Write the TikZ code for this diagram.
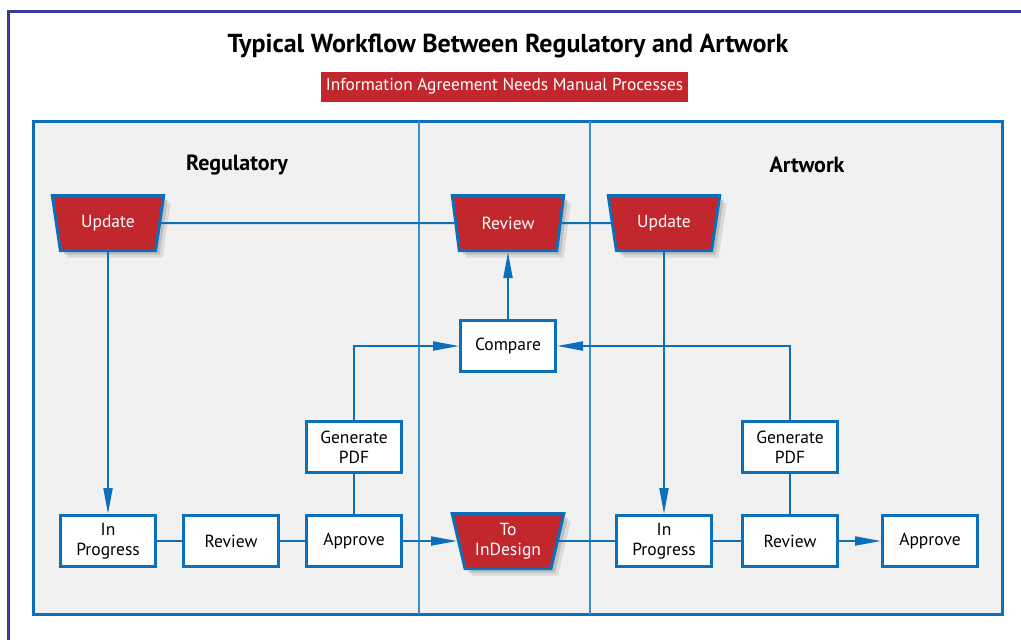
\documentclass[tikz,border=0pt]{standalone}
\usepackage{fontspec}
\setmainfont{PT Sans}
\usetikzlibrary{shapes, arrows.meta, positioning, shadows}

\definecolor{flowblue}{HTML}{0B6FBA}
\definecolor{flowred}{HTML}{C1272D}
\definecolor{lanegray}{HTML}{F1F1F1}
\definecolor{laneline}{HTML}{3D8FCB}
\definecolor{frameblue}{HTML}{3A3A98}

\begin{document}
\begin{tikzpicture}[
    x=1pt, y=-1pt,
    task/.style={rectangle, draw=flowblue, fill=white, line width=3pt, minimum width=95pt, minimum height=51pt, inner sep=1pt, align=center, font=\fontsize{17.5}{20}\selectfont},
    handoff/.style={trapezium, shape border rotate=180, trapezium stretches=true, trapezium angle=75, draw=flowblue, fill=flowred, line width=3pt, minimum width=112pt, minimum height=55pt, inner sep=1pt, align=center, text=white, font=\fontsize{17.5}{20}\selectfont,
        drop shadow={shadow xshift=4pt, shadow yshift=-4pt, opacity=0.3},
        drop shadow={shadow xshift=7pt, shadow yshift=-7pt, opacity=0.2}},
    link/.style={draw=flowblue, line width=2pt},
    flow/.style={link, -{Triangle[length=26pt, width=9pt]}},
    lane/.style={font=\bfseries\fontsize{22}{24}\selectfont}
]
\useasboundingbox (0,0) rectangle (1021,640);

% Frame
\draw[frameblue, line width=3pt] (8,640) -- (8,11) -- (1021,11);

% Title
\node (title) at (508,46) {\bfseries\fontsize{26}{28}\selectfont Typical Workflow Between Regulatory and Artwork};
\node[fill=flowred, text=white, minimum width=367pt, minimum height=30pt, inner sep=1pt, font=\fontsize{17.3}{19}\selectfont] (subtitle) at (504.5,86.5) {Information Agreement Needs Manual Processes};

% Lanes
\draw[flowblue, fill=lanegray, line width=3pt] (33,121) rectangle (1002,614);
\draw[laneline, line width=1.5pt] (419,121) -- (419,614);
\draw[laneline, line width=1.5pt] (590,121) -- (590,614);
\node[lane] (regulatory) at (237,165) {Regulatory};
\node[lane] (artwork) at (807,165) {Artwork};

% Handoffs
\node[handoff] (regupdate) at (108,223) {Update};
\node[handoff] (review) at (508,223) {Review};
\node[handoff] (artupdate) at (664,223) {Update};
\node[handoff] (indesign) at (508,541) {To\\InDesign};

% Regulatory tasks
\node[task] (regprog) at (108,541) {In\\Progress};
\node[task, right=25pt of regprog] (regreview) {Review};
\node[task, right=25pt of regreview] (regapprove) {Approve};
\node[task, above=40pt of regapprove] (reggen) {Generate\\PDF};

% Artwork tasks
\node[task] (artprog) at (664,541) {In\\Progress};
\node[task] (artreview) at (790,541) {Review};
\node[task] (artapprove) at (930,541) {Approve};
\node[task, above=40pt of artreview] (artgen) {Generate\\PDF};

\node[task] (compare) at (508,346) {Compare};

% Arrows
\draw[link] (regupdate) -- (review);
\draw[link] (review) -- (artupdate);
\draw[flow] (regupdate) -- (regprog);
\draw[flow] (artupdate) -- (artprog);
\draw[link] (regprog) -- (regreview);
\draw[link] (regreview) -- (regapprove);
\draw[link] (regapprove) -- (reggen);
\draw[flow] (regapprove) -- (indesign);
\draw[link] (indesign) -- (artprog);
\draw[link] (artprog) -- (artreview);
\draw[flow] (artreview) -- (artapprove);
\draw[link] (artreview) -- (artgen);
\draw[flow] (reggen) |- (compare);
\draw[flow] (artgen) |- (compare);
\draw[flow] (compare) -- (review);

\end{tikzpicture}
\end{document}
